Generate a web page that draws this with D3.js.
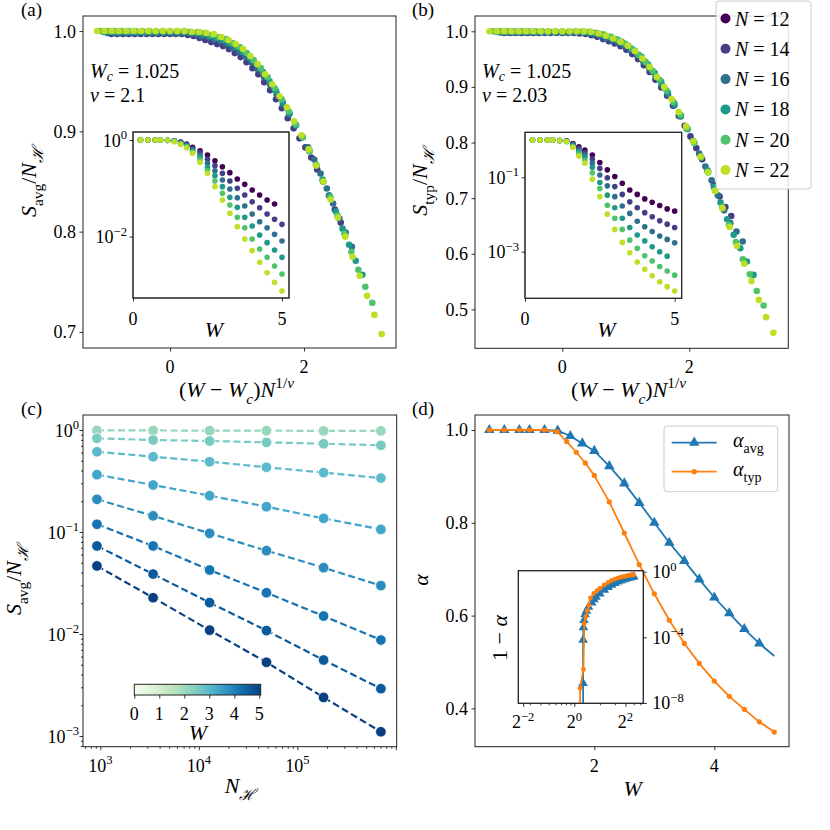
<!DOCTYPE html>
<html>
<head>
<meta charset="utf-8">
<script src="https://cdn.jsdelivr.net/npm/d3@7"></script>
<style>
body { margin: 0; background: #fff; }
svg text { font-family: 'Liberation Serif', 'DejaVu Serif', 'Times New Roman', serif; }
</style>
</head>
<body>
<div id="container"></div>
<script>
// ---------- data ----------
const Ns = [12, 14, 16, 18, 20, 22];
const Wc = 1.025;
const nuAvg = 2.1;
const nuTyp = 2.03;

// disorder grid used in the scaling collapse (panels a, b)
const Wgrid = [0.775,0.8,0.825,0.85,0.875,0.9,0.925,0.95,0.975,1.0,1.025,1.05,1.075,1.1,1.125,1.15,1.175,1.2,1.225,1.25,
  1.275,1.3,1.325,1.35,1.375,1.4,1.425,1.45,1.475,1.5,1.525,1.55,1.575,1.6,1.625,1.65,1.675,1.7,1.725,1.75];

// panel (a): S_avg/N_H collapse, N = 14..22
const sAvg14 = [0.997,0.997,0.997,0.997,0.997,0.997,0.997,0.997,0.997,0.997,0.997,0.997,0.997,0.996,0.995,0.993,0.991,0.989,0.987,0.985,
  0.982,0.978,0.974,0.969,0.963,0.957,0.949,0.941,0.932,0.923,0.913,0.903,0.893,0.884,0.874,0.862,0.850,0.836,0.822,0.809];
const sAvg16 = [0.998,0.998,0.998,0.998,0.998,0.998,0.998,0.998,0.998,0.998,0.998,0.998,0.998,0.998,0.997,0.995,0.994,0.992,0.990,0.987,
  0.983,0.979,0.975,0.969,0.962,0.954,0.946,0.937,0.927,0.917,0.906,0.895,0.884,0.872,0.858,0.843,0.828,0.813,0.799,0.785];
const sAvg18 = [0.999,0.999,0.999,0.999,0.999,0.999,0.999,0.999,0.999,0.999,0.999,0.999,0.999,0.999,0.998,0.997,0.995,0.993,0.991,0.988,
  0.984,0.979,0.973,0.967,0.959,0.950,0.940,0.929,0.918,0.906,0.894,0.881,0.867,0.852,0.836,0.820,0.803,0.787,0.771,0.757];
const sAvg20 = [1,1,1,1,1,1,1,1,1,1,1,1,1,0.999,0.999,0.998,0.996,0.994,0.992,0.988,
  0.984,0.978,0.971,0.963,0.954,0.943,0.932,0.920,0.907,0.894,0.880,0.866,0.850,0.834,0.816,0.798,0.780,0.762,0.745,0.729];
const sAvg22 = [1,1,1,1,1,1,1,1,1,1,1,1,1,0.999,0.999,0.998,0.997,0.994,0.991,0.987,
  0.982,0.975,0.967,0.957,0.947,0.935,0.924,0.910,0.896,0.882,0.866,0.850,0.832,0.814,0.795,0.775,0.756,0.736,0.717,0.698];

// panel (b): S_typ/N_H collapse, N = 14..22
const sTyp14 = [0.997,0.997,0.997,0.997,0.997,0.997,0.997,0.997,0.997,0.997,0.997,0.997,0.997,0.996,0.995,0.993,0.990,0.986,0.982,0.978,
  0.973,0.967,0.959,0.950,0.939,0.927,0.913,0.899,0.884,0.866,0.848,0.830,0.811,0.790,0.770,0.748,0.724,0.703,0.684,0.668];
const sTyp16 = [0.998,0.998,0.998,0.998,0.998,0.998,0.998,0.998,0.998,0.998,0.998,0.998,0.998,0.998,0.997,0.995,0.992,0.988,0.984,0.979,
  0.973,0.966,0.957,0.946,0.933,0.918,0.903,0.886,0.867,0.847,0.825,0.803,0.780,0.757,0.732,0.705,0.678,0.655,0.640,0.622];
const sTyp18 = [0.999,0.999,0.999,0.999,0.999,0.999,0.999,0.999,0.999,0.999,0.999,0.999,0.999,0.999,0.998,0.997,0.994,0.990,0.986,0.981,
  0.974,0.965,0.954,0.940,0.925,0.909,0.890,0.870,0.848,0.824,0.800,0.775,0.750,0.720,0.692,0.662,0.634,0.610,0.586,0.562];
const sTyp20 = [1,1,1,1,1,1,1,1,1,1,1,1,1,0.999,0.999,0.997,0.994,0.990,0.985,0.978,
  0.969,0.958,0.945,0.929,0.913,0.894,0.873,0.850,0.825,0.799,0.773,0.746,0.714,0.684,0.652,0.621,0.590,0.563,0.533,0.507];
const sTyp22 = [1,1,1,1,1,1,1,1,1,1,1,1,1,1,0.999,0.996,0.992,0.987,0.981,0.974,
  0.964,0.951,0.936,0.918,0.900,0.878,0.855,0.829,0.802,0.775,0.747,0.713,0.682,0.648,0.614,0.582,0.551,0.517,0.486,0.458];

// insets (a), (b): log10 of the raw ratio vs W
const Winset = [0.25,0.5,0.75,0.92,1.16,1.39,1.6,1.8,2.0,2.25,2.5,2.75,3.0,3.25,3.5,3.75,4.0,4.25,4.5,4.75,5.0];
const logAvg12 = [0,0,0,0,-0.007,-0.014,-0.041,-0.083,-0.152,-0.221,-0.311,-0.428,-0.552,-0.676,-0.807,-0.918,-1.035,-1.139,-1.242,-1.325];
const logAvg14 = [0,0,0,0,-0.007,-0.014,-0.048,-0.097,-0.179,-0.262,-0.400,-0.531,-0.690,-0.849,-1.001,-1.139,-1.277,-1.401,-1.532,-1.642,-1.746];
const logAvg16 = [0,0,0,0,-0.007,-0.021,-0.055,-0.110,-0.207,-0.311,-0.483,-0.635,-0.828,-1.014,-1.194,-1.366,-1.532,-1.691,-1.815,-1.953,-2.091];
const logAvg18 = [0,0,0,0,-0.007,-0.021,-0.069,-0.124,-0.228,-0.359,-0.566,-0.738,-0.966,-1.187,-1.394,-1.601,-1.780,-1.967,-2.125,-2.277,-2.429];
const logAvg20 = [0,0,0,0,-0.007,-0.028,-0.076,-0.138,-0.255,-0.414,-0.635,-0.849,-1.104,-1.346,-1.601,-1.815,-2.050,-2.257,-2.429,-2.609,-2.774];
const logAvg22 = [0,0,0,0,-0.007,-0.035,-0.090,-0.159,-0.276,-0.462,-0.690,-0.966,-1.242,-1.518,-1.794,-2.050,-2.291,-2.533,-2.747,-2.947,-3.126];

const logTyp12 = [0,0,0,0,-0.01,-0.02,-0.09,-0.18,-0.27,-0.40,-0.60,-0.80,-0.98,-1.16,-1.34,-1.46,-1.58,-1.67,-1.76,-1.85,-1.91];
const logTyp14 = [0,0,0,0,-0.01,-0.02,-0.11,-0.22,-0.34,-0.51,-0.76,-1.01,-1.25,-1.46,-1.66,-1.82,-1.95,-2.06,-2.17,-2.26,-2.35];
const logTyp16 = [0,0,0,0,-0.01,-0.03,-0.12,-0.27,-0.40,-0.62,-0.94,-1.23,-1.52,-1.77,-1.97,-2.18,-2.33,-2.46,-2.58,-2.67,-2.76];
const logTyp18 = [0,0,0,0,-0.01,-0.03,-0.15,-0.32,-0.46,-0.73,-1.14,-1.48,-1.82,-2.10,-2.35,-2.55,-2.71,-2.87,-3.00,-3.12];
const logTyp20 = [0,0,0,0,-0.01,-0.04,-0.18,-0.37,-0.54,-0.88,-1.30,-1.75,-2.10,-2.40,-2.69,-2.91,-3.11,-3.25,-3.40,-3.52,-3.63];
const logTyp22 = [0,0,0,0,-0.02,-0.04,-0.19,-0.43,-0.62,-1.05,-1.52,-1.99,-2.40,-2.75,-3.03,-3.28,-3.47,-3.65,-3.81,-3.94,-4.06];

// panel (c): S_avg/N_H vs Hilbert space dimension, one line per W
const NH = [924, 3432, 12870, 48620, 184756, 705432];
const cW = [1.25, 1.75, 2.25, 2.75, 3.25, 3.75, 4.25, 4.75];
const cS1 = [0.99, 0.99, 0.985, 0.985, 0.98, 0.98];
const cS2 = [0.828, 0.798, 0.78, 0.757, 0.734, 0.708];
const cS3 = [0.612, 0.547, 0.489, 0.431, 0.382, 0.338];
const cS4 = [0.365, 0.289, 0.227, 0.177, 0.136, 0.106];
const cS5 = [0.209, 0.144, 0.097, 0.0656, 0.0447, 0.0298];
const cS6 = [0.119, 0.073, 0.0424, 0.0254, 0.0150, 0.00873];
const cS7 = [0.073, 0.0387, 0.0203, 0.0108, 0.00556, 0.00291];
const cS8 = [0.0465, 0.0227, 0.0109, 0.00528, 0.00239, 0.0011];

// panel (d): fractal dimension alpha
const WalphaAvg = [0.25,0.5,0.75,0.92,1.17,1.39,1.6,1.8,2.0,2.25,2.5,2.75,3.0,3.25,3.5,3.75,4.0,4.25,4.5,4.75,5.0];
const alphaAvg = [1,1,1,1,1,0.9986,0.987,0.971,0.955,0.922,0.885,0.843,0.800,0.757,0.718,0.678,0.639,0.605,0.571,0.540,0.513];
const WalphaTyp = [0.25,0.5,0.75,0.92,1.17,1.38,1.54,1.7,1.85,2.0,2.25,2.5,2.75,3.0,3.25,3.5,3.75,4.0,4.25,4.5,4.75,5.0];
const alphaTyp = [1,1,1,1,1,0.9964,0.975,0.952,0.929,0.902,0.845,0.778,0.710,0.647,0.590,0.540,0.497,0.459,0.426,0.398,0.371,0.349];

// inset (d): 1 - alpha on log-log axes
const WinsAvg = [1.17,1.27,1.27,1.28,1.3,1.34,1.39,1.47,1.6,1.7,1.8,2.0,2.25,2.5,2.75,3.0,3.25,3.5,3.75,4.0,4.25,4.5,4.75,5.0];
const oneMinusAvg = [0,1.6e-7,7e-5,4e-4,1.1e-3,2.5e-3,4e-3,7e-3,0.013,0.02,0.029,0.045,0.078,0.115,0.157,0.200,0.243,0.282,0.322,0.361,0.395,0.429,0.460,0.487];
const WinsTyp = [0.92,1.17,1.28,1.31,1.36,1.42,1.48,1.55,1.7,1.85,2.0,2.25,2.5,2.75,3.0,3.25,3.5,3.75,4.0,4.25,4.5,4.75,5.0];
const oneMinusTyp = [0,8e-8,1.1e-6,7e-4,1.8e-3,4.2e-3,9e-3,0.025,0.048,0.071,0.098,0.155,0.222,0.29,0.353,0.41,0.46,0.503,0.541,0.574,0.602,0.629,0.651];

// ---------- helpers ----------
const FONT = "'Liberation Serif', 'DejaVu Serif', 'Times New Roman', serif";
const svg = d3.select("#container").append("svg")
  .attr("width", 830).attr("height", 830)
  .style("font-family", FONT);
svg.append("rect").attr("width", 830).attr("height", 830).attr("fill", "#fff");
const defs = svg.append("defs");

const nColor = d3.scaleOrdinal().domain(Ns).range(Ns.map((n, i) => d3.interpolateViridis(i * 0.18)));
const blue = "#1f77b4", orange = "#ff7f0e";

function clipFor(id, b) {
  defs.append("clipPath").attr("id", id).append("rect")
    .attr("x", b.l).attr("y", b.t).attr("width", b.r - b.l).attr("height", b.b - b.t);
  return `url(#${id})`;
}

// text with italic / sub / sup parts
function mtext(g, x, y, parts, o = {}) {
  const fs = o.size || 18;
  const t = g.append("text").attr("x", x).attr("y", y).attr("font-size", fs)
    .style("font-family", FONT)
    .attr("text-anchor", o.anchor || "start").attr("fill", "#000");
  if (o.rotate) t.attr("transform", `rotate(${o.rotate},${x},${y})`);
  let cur = 0;
  parts.forEach(([s, k]) => {
    const sub = k.includes("_"), sup = k.includes("^");
    const target = sub ? (o.subShift || 0.3) * fs : sup ? -0.42 * fs : 0;
    const ts = t.append("tspan").text(s);
    if (target - cur !== 0) ts.attr("dy", target - cur);
    cur = target;
    if (sub || sup) ts.attr("font-size", fs * 0.7);
    if (k.includes("i")) ts.attr("font-style", "italic");
  });
  return t;
}

function ticks(g, orient, scale, pos, vals, size) {
  const gen = orient === "b" ? d3.axisBottom : orient === "l" ? d3.axisLeft : d3.axisRight;
  const ax = gen(scale).tickValues(vals).tickSize(size).tickSizeOuter(0).tickFormat("");
  const gg = g.append("g")
    .attr("transform", orient === "b" ? `translate(0,${pos})` : `translate(${pos},0)`)
    .call(ax);
  gg.select(".domain").remove();
  gg.selectAll("line").attr("stroke", "#000").attr("stroke-width", 0.8);
  return gg;
}

function frame(g, b, fill) {
  return g.append("rect").attr("x", b.l).attr("y", b.t)
    .attr("width", b.r - b.l).attr("height", b.b - b.t)
    .attr("fill", fill || "none").attr("stroke", "#222").attr("stroke-width", 1);
}

function dots(g, pts, x, y, color, r) {
  g.append("g").selectAll("circle").data(pts).join("circle")
    .attr("cx", d => x(d[0])).attr("cy", d => y(d[1])).attr("r", r).attr("fill", color);
}

const powLabel = (base, e) => [[String(base), "r"], [e < 0 ? "\u2212" + (-e) : String(e), "^r"]];

// ---------- collapse panels (a), (b) ----------
function collapsePanel(P) {
  const g = svg.append("g");
  const x = d3.scaleLinear().domain(P.xdom).range([P.box.l, P.box.r]);
  const y = d3.scaleLinear().domain(P.ydom).range([P.box.b, P.box.t]);
  const cg = g.append("g").attr("clip-path", clipFor(P.id, P.box));
  P.series.forEach(([N, vals]) => {
    const f = Math.pow(N, 1 / P.nu);
    dots(cg, d3.zip(Wgrid.map(w => (w - Wc) * f), vals), x, y, nColor(N), 3.3);
  });
  frame(g, P.box);
  ticks(g, "b", x, P.box.b, [0, 2], 3.5);
  ticks(g, "l", y, P.box.l, P.yticks, 3.5);
  [0, 2].forEach(v => mtext(g, x(v), P.box.b + 25, [[String(v), "r"]], { anchor: "middle" }));
  P.yticks.forEach(v => mtext(g, P.box.l - 7, y(v) + 6.5, [[v.toFixed(1), "r"]], { anchor: "end" }));

  // inset
  const I = P.inset;
  const xi = d3.scaleLinear().domain([0, 5.235]).range([I.l, I.r]);
  const yi = d3.scaleLog().domain(P.insetYdom).range([I.b, I.t]);
  frame(g, I, "#fff");
  const ig = g.append("g").attr("clip-path", clipFor(P.id + "i", I));
  P.insetSeries.forEach(([N, vals]) => {
    dots(ig, d3.zip(Winset, vals.map(v => Math.pow(10, v))), xi, yi, nColor(N), 2.8);
  });
  frame(g, I);
  ticks(g, "b", xi, I.b, [0, 5], 3.5);
  ticks(g, "l", yi, I.l, P.insetYticks.map(e => Math.pow(10, e)), 3.5);
  [0, 5].forEach(v => mtext(g, xi(v), I.b + 27, [[String(v), "r"]], { anchor: "middle" }));
  P.insetYticks.forEach(e => mtext(g, I.l - 6, yi(Math.pow(10, e)) + 6.5, powLabel(10, e), { anchor: "end" }));
  mtext(g, (I.l + I.r) / 2 + 3, I.b + 39, [["W", "i"]], { anchor: "middle", size: 22 });

  // labels
  mtext(g, (P.box.l + P.box.r) / 2 - 3, 397,
    [["(", "r"], ["W", "i"], [" \u2212 ", "r"], ["W", "i"], ["c", "_i"], [")", "r"], ["N", "i"], ["1/", "^r"], ["\u03bd", "^i"]],
    { anchor: "middle", size: 22 });
  mtext(g, P.ylabX, 182, [["S", "i"], [P.sub, "_r"], ["/", "r"], ["N", "i"], ["\u210b", "_i"]],
    { anchor: "middle", size: 22, rotate: -90 });
  mtext(g, P.tag.x, 16, [[P.tag.t, "r"]], { size: 19 });
  mtext(g, P.box.l + 7, 78, [["W", "i"], ["c", "_i"], [" = 1.025", "r"]], { size: 20, subShift: 0.17 });
  mtext(g, P.box.l + 7, 102, [["\u03bd", "i"], [" = " + P.nu, "r"]], { size: 20 });
}

collapsePanel({
  id: "ca", box: { l: 83, t: 16, r: 396, b: 348 }, xdom: [-1.3, 3.373], ydom: [0.684, 1.015],
  yticks: [0.7, 0.8, 0.9, 1.0], nu: nuAvg, sub: "avg", ylabX: 36, tag: { x: 21, t: "(a)" },
  series: [[14, sAvg14], [16, sAvg16], [18, sAvg18], [20, sAvg20], [22, sAvg22]],
  inset: { l: 133, t: 132, r: 289, b: 298 }, insetYdom: [Math.pow(10, -3.271), Math.pow(10, 0.166)],
  insetYticks: [0, -2],
  insetSeries: [[12, logAvg12], [14, logAvg14], [16, logAvg16], [18, logAvg18], [20, logAvg20], [22, logAvg22]]
});

collapsePanel({
  id: "cb", box: { l: 475, t: 16, r: 788.3, b: 348.3 }, xdom: [-1.375, 3.559], ydom: [0.43, 1.0275],
  yticks: [0.5, 0.6, 0.7, 0.8, 0.9, 1.0], nu: nuTyp, sub: "typ", ylabX: 427, tag: { x: 412, t: "(b)" },
  series: [[14, sTyp14], [16, sTyp16], [18, sTyp18], [20, sTyp20], [22, sTyp22]],
  inset: { l: 525, t: 132.3, r: 681.7, b: 298.3 }, insetYdom: [Math.pow(10, -4.253), Math.pow(10, 0.21)],
  insetYticks: [-1, -3],
  insetSeries: [[12, logTyp12], [14, logTyp14], [16, logTyp16], [18, logTyp18], [20, logTyp20], [22, logTyp22]]
});

// legend for N
{
  const lg = svg.append("g");
  lg.append("rect").attr("x", 716).attr("y", 1).attr("width", 95).attr("height", 188).attr("rx", 3)
    .attr("fill", "#fff").attr("fill-opacity", 0.85).attr("stroke", "#ccc").attr("stroke-width", 1);
  Ns.forEach((n, i) => {
    const yy = 18.5 + i * 30.3;
    lg.append("circle").attr("cx", 725.5).attr("cy", yy).attr("r", 5).attr("fill", nColor(n));
    mtext(lg, 735, yy + 7, [["N", "i"], [" = " + n, "r"]], { size: 20 });
  });
}

// ---------- panel (c) ----------
{
  const B = { l: 83, t: 415, r: 396.7, b: 746.7 };
  const g = svg.append("g");
  const x = d3.scaleLog().domain([Math.pow(10, 2.824), Math.pow(10, 6.009)]).range([B.l, B.r]);
  const y = d3.scaleLog().domain([Math.pow(10, -3.105), Math.pow(10, 0.147)]).range([B.b, B.t]);
  const tOf = d3.scaleLinear().domain([cW[0], cW[cW.length - 1]]).range([0.42, 1.0]);
  const cg = g.append("g").attr("clip-path", clipFor("cc", B));
  const line = d3.line().x(d => x(d[0])).y(d => y(d[1]));
  [cS1, cS2, cS3, cS4, cS5, cS6, cS7, cS8].forEach((vals, i) => {
    const col = d3.interpolateGnBu(tOf(cW[i]));
    const pts = d3.zip(NH, vals);
    cg.append("path").attr("d", line(pts)).attr("fill", "none").attr("stroke", col)
      .attr("stroke-width", 2.2).attr("stroke-dasharray", "7,3.5");
    cg.append("g").selectAll("circle").data(pts).join("circle")
      .attr("cx", d => x(d[0])).attr("cy", d => y(d[1])).attr("r", 5.3)
      .attr("fill", col).attr("stroke", "#fff").attr("stroke-width", 0.8);
  });
  frame(g, B);
  const majX = [1e3, 1e4, 1e5, 1e6].filter(v => v <= x.domain()[1]);
  const minX = [];
  [1e2, 1e3, 1e4, 1e5].forEach(d => { for (let k = 2; k <= 9; k++) if (d * k >= x.domain()[0] && d * k <= x.domain()[1]) minX.push(d * k); });
  ticks(g, "b", x, B.b, majX, 3.5);
  ticks(g, "b", x, B.b, minX, 2);
  const majY = [1e-3, 1e-2, 1e-1, 1];
  const minY = [];
  [1e-4, 1e-3, 1e-2, 1e-1, 1].forEach(d => { for (let k = 2; k <= 9; k++) if (d * k >= y.domain()[0] && d * k <= y.domain()[1]) minY.push(d * k); });
  ticks(g, "l", y, B.l, majY, 3.5);
  ticks(g, "l", y, B.l, minY, 2);
  [3, 4, 5].forEach(e => mtext(g, x(Math.pow(10, e)), B.b + 25, powLabel(10, e), { anchor: "middle" }));
  [0, -1, -2, -3].forEach(e => mtext(g, B.l - 4, y(Math.pow(10, e)) + 7, powLabel(10, e), { anchor: "end" }));
  mtext(g, 240, 793, [["N", "i"], ["\u210b", "_i"]], { anchor: "middle", size: 22 });
  mtext(g, 21, 580, [["S", "i"], ["avg", "_r"], ["/", "r"], ["N", "i"], ["\u210b", "_i"]],
    { anchor: "middle", size: 22, rotate: -90 });
  mtext(g, 21, 415, [["(c)", "r"]], { size: 19 });

  // colorbar
  const cb = { l: 134.3, t: 684.3, r: 260.7, b: 695 };
  const grad = defs.append("linearGradient").attr("id", "gnbu");
  d3.range(0, 1.0001, 0.1).forEach(t => grad.append("stop").attr("offset", t).attr("stop-color", d3.interpolateGnBu(t)));
  const xcb = d3.scaleLinear().domain([0, 5.056]).range([cb.l, cb.r]);
  g.append("rect").attr("x", cb.l).attr("y", cb.t).attr("width", cb.r - cb.l).attr("height", cb.b - cb.t)
    .attr("fill", "url(#gnbu)").attr("stroke", "#222").attr("stroke-width", 1);
  const cbTicks = [0, 1, 2, 3, 4, 5];
  ticks(g, "b", xcb, cb.b, cbTicks, 3.5);
  cbTicks.forEach(v => mtext(g, xcb(v), 720, [[String(v), "r"]], { anchor: "middle" }));
  mtext(g, 198, 740, [["W", "i"]], { anchor: "middle", size: 22 });
}

// ---------- panel (d) ----------
{
  const B = { l: 475, t: 415, r: 789, b: 746.7 };
  const g = svg.append("g");
  const x = d3.scaleLinear().domain([0.0117, 5.245]).range([B.l, B.r]);
  const y = d3.scaleLinear().domain([0.3175, 1.0323]).range([B.b, B.t]);
  const cg = g.append("g").attr("clip-path", clipFor("cd", B));
  const line = d3.line().x(d => x(d[0])).y(d => y(d[1]));
  const avgPts = d3.zip(WalphaAvg, alphaAvg);
  const typPts = d3.zip(WalphaTyp, alphaTyp);
  cg.append("path").attr("d", line(avgPts)).attr("fill", "none").attr("stroke", blue).attr("stroke-width", 1.8);
  cg.append("g").selectAll("path").data(avgPts.slice(0, -1)).join("path")
    .attr("d", d3.symbol(d3.symbolTriangle, 48)).attr("fill", blue)
    .attr("transform", d => `translate(${x(d[0])},${y(d[1])})`);
  cg.append("path").attr("d", line(typPts)).attr("fill", "none").attr("stroke", orange).attr("stroke-width", 1.8);
  dots(cg, typPts, x, y, orange, 2.6);
  frame(g, B);
  ticks(g, "b", x, B.b, [2, 4], 3.5);
  ticks(g, "l", y, B.l, [0.4, 0.6, 0.8, 1.0], 3.5);
  [2, 4].forEach(v => mtext(g, x(v), B.b + 25, [[String(v), "r"]], { anchor: "middle" }));
  [0.4, 0.6, 0.8, 1.0].forEach(v => mtext(g, B.l - 7, y(v) + 6.5, [[v.toFixed(1), "r"]], { anchor: "end" }));
  mtext(g, 632.7, 796, [["W", "i"]], { anchor: "middle", size: 22 });
  mtext(g, 428, 580, [["\u03b1", "i"]], { anchor: "middle", size: 22, rotate: -90 });
  mtext(g, 412, 415, [["(d)", "r"]], { size: 19 });

  // legend
  g.append("rect").attr("x", 664).attr("y", 426).attr("width", 113.7).attr("height", 65.7).attr("rx", 3)
    .attr("fill", "#fff").attr("fill-opacity", 0.85).attr("stroke", "#ccc");
  g.append("line").attr("x1", 671.7).attr("x2", 716.7).attr("y1", 442.7).attr("y2", 442.7).attr("stroke", blue).attr("stroke-width", 1.8);
  g.append("path").attr("d", d3.symbol(d3.symbolTriangle, 48)).attr("fill", blue).attr("transform", "translate(694.2,442.7)");
  g.append("line").attr("x1", 671.7).attr("x2", 716.7).attr("y1", 471.7).attr("y2", 471.7).attr("stroke", orange).attr("stroke-width", 1.8);
  g.append("circle").attr("cx", 694.2).attr("cy", 471.7).attr("r", 2.6).attr("fill", orange);
  mtext(g, 733, 447, [["\u03b1", "i"], ["avg", "_r"]], { size: 20 });
  mtext(g, 733, 476, [["\u03b1", "i"], ["typ", "_r"]], { size: 20 });

  // inset 1 - alpha
  const I = { l: 518.3, t: 570.7, r: 643.3, b: 703.3 };
  const xi = d3.scaleLog().base(2).domain([Math.pow(2, -2.1875), Math.pow(2, 2.695)]).range([I.l, I.r]);
  const yi = d3.scaleLog().domain([Math.pow(10, -8.02), Math.pow(10, 0.061)]).range([I.b, I.t]);
  frame(g, I, "#fff");
  const ig = g.append("g").attr("clip-path", clipFor("cdi", I));
  const lineI = d3.line().x(d => xi(d[0])).y(d => yi(d[1] > 0 ? d[1] : 1e-300));
  const aPts = d3.zip(WinsAvg, oneMinusAvg);
  const tPts = d3.zip(WinsTyp, oneMinusTyp);
  ig.append("path").attr("d", lineI(aPts)).attr("fill", "none").attr("stroke", blue).attr("stroke-width", 1.8);
  ig.append("g").selectAll("path").data(aPts.filter(d => d[1] > 0)).join("path")
    .attr("d", d3.symbol(d3.symbolTriangle, 40)).attr("fill", blue)
    .attr("transform", d => `translate(${xi(d[0])},${yi(d[1])})`);
  ig.append("path").attr("d", lineI(tPts)).attr("fill", "none").attr("stroke", orange).attr("stroke-width", 1.8);
  dots(ig, tPts.filter(d => d[1] > 0), xi, yi, orange, 2.4);
  frame(g, I);
  ticks(g, "b", xi, I.b, [0.25, 1, 4], 3.5);
  ticks(g, "b", xi, I.b, [0.3, 0.4, 0.5, 0.6, 0.7, 0.8, 0.9, 2, 3, 5, 6], 2);
  ticks(g, "r", yi, I.r, [1, 1e-4, 1e-8], 3.5);
  [-2, 0, 2].forEach(e => mtext(g, xi(Math.pow(2, e)), I.b + 25, powLabel(2, e), { anchor: "middle" }));
  [0, -4, -8].forEach(e => mtext(g, I.r + 9, yi(Math.pow(10, e)) + 6.5, powLabel(10, e), { anchor: "start" }));
  mtext(g, 507, 638, [["1 \u2212 ", "r"], ["\u03b1", "i"]], { anchor: "middle", size: 22, rotate: -90 });
}
</script>
</body>
</html>
